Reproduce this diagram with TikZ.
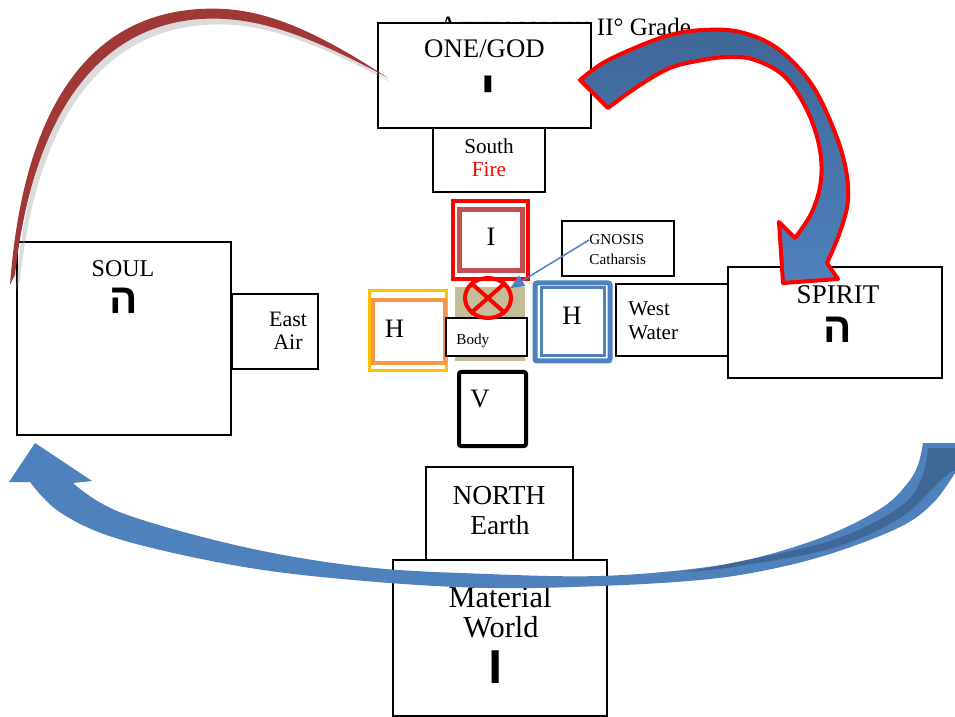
\documentclass[tikz,border=0pt]{standalone}
\usepackage{fontspec}
\setmainfont{Liberation Serif}
\newfontfamily\hebfont[Script=Hebrew]{Liberation Sans}
\TeXXeTstate=1
\usetikzlibrary{shapes.geometric, arrows.meta}

\definecolor{fireRed}{RGB}{255,0,0}
\definecolor{brickRed}{RGB}{192,80,77}
\definecolor{goldYellow}{RGB}{255,192,0}
\definecolor{paleOrange}{RGB}{247,150,70}
\definecolor{waterBlue}{RGB}{79,129,189}
\definecolor{deepBlue}{RGB}{63,103,151}
\definecolor{bodyTan}{RGB}{196,189,151}
\definecolor{brushRed}{RGB}{160,56,56}

\newcommand{\fsz}[1]{\fontsize{#1}{#1}\selectfont}
\newcommand{\hebr}[2]{{\hebfont\bfseries\fsz{#1}\beginR #2\endR}}

\tikzset{
  box/.style = {draw=black, line width=0.75pt, fill=white, inner sep=0pt},
  letterbox/.style = {fill=white, inner sep=0pt},
  txt/.style = {inner sep=0pt, anchor=base},
  ltxt/.style = {inner sep=0pt, anchor=base west},
  glyph/.style = {inner sep=0pt, anchor=center},
}

\begin{document}
\begin{tikzpicture}[x=0.5pt, y=-0.5pt]
\useasboundingbox (0,0) rectangle (955,717);
\node[ltxt] (title) at (438,36) {{\fsz{14}A}\,{\fsz{10}THEOSOPHUS} {\fsz{12.5}II° Grade}};
\node[box, minimum width=106.5pt, minimum height=52.5pt] (god) at (484.5,75.5) {};
\node[box, minimum width=56pt, minimum height=32pt] (south) at (489,160) {};
\node[box, minimum width=107pt, minimum height=96.5pt] (soul) at (124,338.5) {};
\node[box, minimum width=43pt, minimum height=37.5pt] (east) at (275,331.5) {};
\node[box, minimum width=56pt, minimum height=36pt] (west) at (672,320) {};
\node[box, minimum width=107pt, minimum height=55.5pt] (spirit) at (835,322.5) {};
\node[box, minimum width=73.5pt, minimum height=46.5pt] (north) at (499.5,513.5) {};
\node[box, minimum width=107pt, minimum height=78pt] (world) at (500,638) {};
\node[box, minimum width=56pt, minimum height=27.5pt] (gnosis) at (618,248.5) {};
% the four letters
\node[fill=bodyTan, inner sep=0pt, minimum width=35pt, minimum height=37pt] (bodybg) at (490,324) {};
\node[letterbox, draw=fireRed, line width=2pt, minimum width=37.5pt, minimum height=39pt] (iout) at (490.5,240) {};
\node[letterbox, draw=brickRed, line width=2.5pt, minimum width=31.5pt, minimum height=30.5pt] (iin) at (491,240) {};
\node[letterbox, draw=goldYellow, line width=1.5pt, minimum width=38.5pt, minimum height=40pt] (hout) at (408,330.5) {};
\node[letterbox, draw=paleOrange, line width=2pt, minimum width=36pt, minimum height=31.5pt] (hin) at (409,331.5) {};
\node[letterbox, draw=waterBlue, line width=2.5pt, rounded corners=1pt, minimum width=37.5pt, minimum height=39pt] (hbout) at (572.5,322) {};
\node[letterbox, draw=waterBlue, line width=1.5pt, minimum width=31.5pt, minimum height=34pt] (hbin) at (572.5,322) {};
\node[letterbox, draw=black, line width=2pt, rounded corners=1pt, minimum width=33.5pt, minimum height=37pt] (vbox) at (492.5,409) {};
\node[box, minimum width=40.5pt, minimum height=19pt] (body) at (486.5,337) {};
\node[draw=fireRed, line width=2pt, ellipse, inner sep=0pt, minimum width=23pt, minimum height=20pt] (cross) at (488,298) {};
\draw[fireRed, line width=2pt] (cross.north west) -- (cross.south east);
\draw[fireRed, line width=2pt] (cross.north east) -- (cross.south west);
% texts
\node[txt, font=\fsz{13.4}] (godtxt) at (484.5,58) {ONE/GOD};
\node[glyph] (yod) at (488,92) {\hebr{26}{י}};
\node[txt, font=\fsz{10.6}] (southtxt) at (489,154) {South};
\node[txt, font=\fsz{10.6}, text=fireRed] (firetxt) at (489,177) {Fire};
\node[txt, font=\fsz{12}] (soultxt) at (123,277) {SOUL};
\node[glyph] (soulheh) at (124,301) {\hebr{21}{ה}};
\node[txt, font=\fsz{11}] (easttxt) at (288,327) {East};
\node[txt, font=\fsz{11}] (airtxt) at (288,350) {Air};
\node[txt, font=\fsz{13.5}] (spirittxt) at (838,304) {SPIRIT};
\node[glyph] (spiritheh) at (838,330) {\hebr{21}{ה}};
\node[ltxt, font=\fsz{10.5}] (westtxt) at (628,315) {West};
\node[ltxt, font=\fsz{10.5}] (watertxt) at (628,340) {Water};
\node[txt, font=\fsz{13.3}] (itxt) at (491,246) {I};
\node[txt, font=\fsz{13.3}] (hotxt) at (394.5,338) {H};
\node[txt, font=\fsz{13.3}] (hbtxt) at (572,325) {H};
\node[txt, font=\fsz{13.3}] (vtxt) at (480,408) {V};
\node[ltxt, font=\fsz{7.6}] (bodytxt) at (456,344) {Body};
\node[ltxt, font=\fsz{7.6}] (gnosistxt) at (589,245) {GNOSIS};
\node[ltxt, font=\fsz{7.6}] (cathtxt) at (589,264) {Catharsis};
\node[txt, font=\fsz{13.7}] (northtxt) at (499,504) {NORTH};
\node[txt, font=\fsz{13.7}] (earthtxt) at (500,534) {Earth};
\node[txt, font=\fsz{15.2}] (materialtxt) at (500,607) {Material};
\node[txt, font=\fsz{15.2}] (worldtxt) at (501,637) {World};
\node[glyph] (vav) at (496,667) {\hebr{27}{ו}};
\draw[waterBlue, line width=0.75pt, -{Triangle[length=7pt, width=6pt]}] (gnosistxt.west) -- (cross.24);
% brush stroke, soul to god
\fill[black!40, opacity=0.35] (392,83) .. controls (304,26) and (254,12) .. (204,15) .. controls (100,21) and (30,104) .. (16,290)
  -- (20,280) .. controls (38,110) and (108,32) .. (204,25) .. controls (254,21) and (304,36) .. (392,83);
\fill[brushRed] (388,78) .. controls (300,20) and (250,6) .. (200,9) .. controls (95,15) and (24,98) .. (10,285)
  -- (15,275) .. controls (34,105) and (104,26) .. (200,19) .. controls (250,16) and (300,30) .. (388,78);
% arrow god to spirit
\path[draw=fireRed, line width=2pt, line join=round, top color=deepBlue, bottom color=waterBlue]
  plot[smooth, tension=0.6] coordinates {(580,80) (603,63) (637,47) (670,35) (703,30) (740,32) (777,48) (810,82) (832,125) (845,165) (848,200) (840,232) (827,263)}
  -- (838,279) -- (783,283) -- (779,222)
  -- plot[smooth, tension=0.6] coordinates {(795,238) (812,212) (821,180) (819,145) (806,108) (784,76) (755,60) (730,57) (703,60) (670,68) (637,87) (608,108)}
  -- cycle;
% arrow world to soul
\fill[waterBlue] (35,443) -- (92,481)
  -- plot[smooth, tension=0.6] coordinates {(73,483) (122,513) (244,547) (365,567) (487,574) (600,576) (700,568) (767,555) (833,533) (883,507) (907,484) (918,465) (923,443)}
  -- (965,443) -- (965,470)
  -- plot[smooth, tension=0.6] coordinates {(955,473) (933,503) (900,527) (833,553) (767,570) (700,580) (600,586) (487,588) (365,581) (244,567) (122,540) (61,513) (30,482)}
  -- (9,482) -- cycle;
\fill[deepBlue] plot[smooth, tension=0.6] coordinates {(683,572) (733,563) (833,540) (900,507) (922,477) (928,448)}
  -- (965,448) -- (965,468)
  -- plot[smooth, tension=0.6] coordinates {(950,472) (933,488) (900,518) (833,548) (733,567) (683,572)} -- cycle;
\end{tikzpicture}
\end{document}
